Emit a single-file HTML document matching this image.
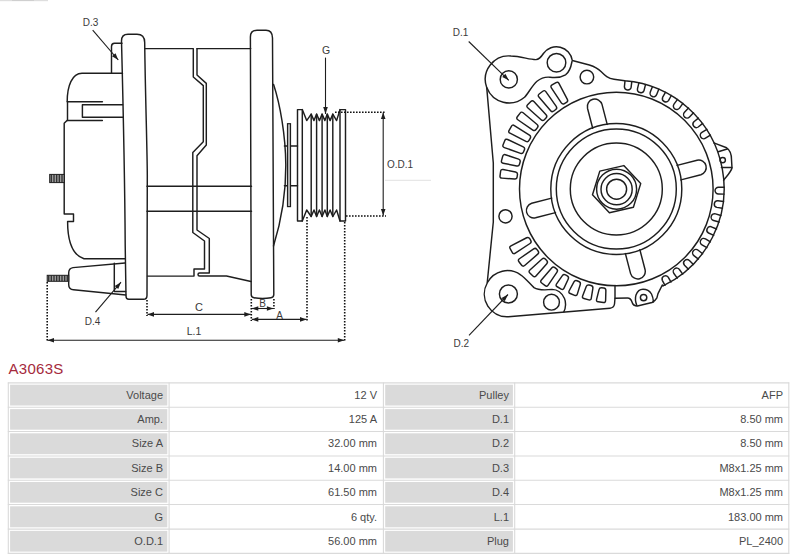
<!DOCTYPE html>
<html><head><meta charset="utf-8">
<style>
html,body{margin:0;padding:0;background:#fff;width:800px;height:558px;overflow:hidden;position:relative;font-family:"Liberation Sans",sans-serif;}
#title{position:absolute;left:8.5px;top:359px;font-size:15px;letter-spacing:0.3px;color:#a52a3c;line-height:20px;white-space:nowrap;}
.hl{position:absolute;height:1px;background:#dcdcdc;}
.vl{position:absolute;width:1px;background:#dcdcdc;}
.fill{position:absolute;background:#dcdcdc;}
.t{position:absolute;font-size:11px;color:#4a4a4a;line-height:14px;white-space:nowrap;text-align:right;}
</style></head><body>
<svg width="800" height="350" viewBox="0 0 800 350" style="position:absolute;left:0;top:0" font-family="Liberation Sans, sans-serif"><defs><pattern id="hatch" width="1.6" height="4" patternUnits="userSpaceOnUse"><rect width="1.6" height="4" fill="#fff"/><rect width="1.1" height="4" fill="#222"/></pattern></defs><g fill="none" stroke="#1e1e1e" stroke-width="1.45" stroke-linejoin="round" stroke-linecap="round">
<path d="M111.5,73.3 V46.5 Q111.5,43.2 114.5,43.2 H122"/>
<path d="M122.5,73.3 H82 C72,73.3 67.2,86 67.2,101.7"/>
<path d="M67.5,101.7 H102.4"/>
<path d="M122.6,104.7 H82.4 V117.2 H122.7"/>
<path d="M67.5,101.7 V120.4"/>
<path d="M102.4,120.4 H67 L64.2,123.2 V214 H73.5 V221.5 H67.6 C67.6,238 71,254.5 84,258.8 H125.2"/>
</g>
<rect x="49.7" y="174.4" width="14.5" height="8.2" fill="url(#hatch)" stroke="#1e1e1e" stroke-width="1"/>
<g fill="none" stroke="#1e1e1e" stroke-width="1.45" stroke-linejoin="round" stroke-linecap="round">
<path d="M121.5,41 Q121.5,34.3 128,34.3 H137 Q144.6,34.3 144.7,42.5 C145.2,90 147.2,150 147.3,175 L147,295.5 Q147,299.3 143.5,299.3 H128.8 Q126,299.3 126,296 L125.2,245 C124.8,175 122.5,80 121.5,41 Z"/>
<path d="M145,48.6 H193.3 V77 L203.3,85.6 V141.8 L192.8,152.6 V232.5 L204.5,241 V269 H194 V276.1 H147.5"/>
<path d="M197,48.6 V75 L206.3,83.4 V145 L197,155.8 V230 L209.3,238.5 V273 H199.5 Q198,273 198,274.5 Q198,276 199.5,276 H226.5 L251,281.5"/>
<path d="M197,48.6 H250.7"/>
<path d="M147,186.3 H251.5"/>
<path d="M147,211.3 H251.5"/>
<path d="M250.4,37 Q250.4,30.3 257,30.3 H266 Q272.3,30.3 272.5,38 L273.8,294.5 Q273.8,297.5 271,297.7 Q262.5,299.2 254,297.7 Q251.2,297.5 251.2,294.5 Z"/>
<path d="M273.6,84.5 C280,104 285.6,135 285.8,165 C286,195 280,225 273.5,246"/>
<path d="M284.4,146 H297.5"/>
<path d="M284.4,185.8 H297.5"/>
</g>
<rect x="287.5" y="123.7" width="3" height="82.9" fill="#bdbdbd" stroke="#1e1e1e" stroke-width="1.2"/>
<g fill="none" stroke="#1e1e1e" stroke-width="1.45" stroke-linejoin="round" stroke-linecap="round">
<path d="M297.5,221 V109.6 H302.3 V221 Z"/>
<path d="M340,221 V109.6 H345.5 V221 Z"/>
<path d="M302.3,109.6 L306.7,120.6 L311.2,114.1 L314.0,120.6 L316.6,114.1 L319.40000000000003,120.6 L322.1,114.1 L324.90000000000003,120.6 L327.3,114.1 L330.1,120.6 L332.8,114.1 L336.6,120.6 L340,109.6"/>
<path d="M302.3,221 L306.7,210 L311.2,216.5 L314.0,210 L316.6,216.5 L319.40000000000003,210 L322.1,216.5 L324.90000000000003,210 L327.3,216.5 L330.1,210 L332.8,216.5 L336.6,210 L340,221"/>
<path d="M311.2,114.1 V216.5"/>
<path d="M316.6,114.1 V216.5"/>
<path d="M322.1,114.1 V216.5"/>
<path d="M327.3,114.1 V216.5"/>
<path d="M332.8,114.1 V216.5"/>
</g>
<g fill="none" stroke="#1e1e1e" stroke-width="1.45" stroke-linejoin="round" stroke-linecap="round">
<path d="M125,263 L73,267.6 Q68.7,268.2 68.7,273 V284.5 Q68.7,289.5 73.5,289.8 L125.8,295"/>
<path d="M114.3,263.2 V291.4 H125.6"/>
</g>
<rect x="47.2" y="275.3" width="21.5" height="6" fill="url(#hatch)" stroke="#1e1e1e" stroke-width="1"/>
<line x1="92.7" y1="30.1" x2="118.3" y2="60" stroke="#1e1e1e" stroke-width="1.1"/>
<path d="M118.3,60.0 L112.0,56.2 L115.5,53.2 Z" fill="#1e1e1e" stroke="none"/>
<line x1="95.5" y1="312.2" x2="121" y2="282.2" stroke="#1e1e1e" stroke-width="1.1"/>
<path d="M121.0,282.2 L118.2,289.0 L114.7,286.0 Z" fill="#1e1e1e" stroke="none"/>
<line x1="325.5" y1="57.6" x2="325.5" y2="114" stroke="#1e1e1e" stroke-width="1.1"/>
<path d="M325.5,114.0 L323.2,107.0 L327.8,107.0 Z" fill="#1e1e1e" stroke="none"/>
<line x1="47.2" y1="282" x2="47.2" y2="341.5" stroke="#111" stroke-width="1.6" stroke-dasharray="1.6,1.4"/>
<line x1="147" y1="300" x2="147" y2="316" stroke="#111" stroke-width="1.6" stroke-dasharray="1.6,1.4"/>
<line x1="251.3" y1="299" x2="251.3" y2="321" stroke="#111" stroke-width="1.6" stroke-dasharray="1.6,1.4"/>
<line x1="273.9" y1="299" x2="273.9" y2="309" stroke="#111" stroke-width="1.6" stroke-dasharray="1.6,1.4"/>
<line x1="307" y1="217" x2="307" y2="321" stroke="#111" stroke-width="1.6" stroke-dasharray="1.6,1.4"/>
<line x1="344.7" y1="222" x2="344.7" y2="342" stroke="#111" stroke-width="1.6" stroke-dasharray="1.6,1.4"/>
<line x1="335" y1="112.2" x2="385" y2="112.2" stroke="#111" stroke-width="1.6" stroke-dasharray="1.6,1.4"/>
<line x1="346" y1="216" x2="386" y2="216" stroke="#111" stroke-width="1.6" stroke-dasharray="1.6,1.4"/>
<line x1="147.5" y1="314.4" x2="250.8" y2="314.4" stroke="#1e1e1e" stroke-width="1.1"/>
<path d="M147.5,314.4 L154.0,312.1 L154.0,316.7 Z" fill="#1e1e1e" stroke="none"/>
<path d="M250.8,314.4 L244.3,316.7 L244.3,312.1 Z" fill="#1e1e1e" stroke="none"/>
<line x1="251.8" y1="308.5" x2="273.4" y2="308.5" stroke="#1e1e1e" stroke-width="1.1"/>
<path d="M251.8,308.5 L258.3,306.2 L258.3,310.8 Z" fill="#1e1e1e" stroke="none"/>
<path d="M273.4,308.5 L266.9,310.8 L266.9,306.2 Z" fill="#1e1e1e" stroke="none"/>
<line x1="251.8" y1="319.4" x2="306.5" y2="319.4" stroke="#1e1e1e" stroke-width="1.1"/>
<path d="M251.8,319.4 L258.3,317.1 L258.3,321.7 Z" fill="#1e1e1e" stroke="none"/>
<path d="M306.5,319.4 L300.0,321.7 L300.0,317.1 Z" fill="#1e1e1e" stroke="none"/>
<line x1="47.5" y1="340.2" x2="344.3" y2="340.2" stroke="#1e1e1e" stroke-width="1.1"/>
<path d="M47.5,340.2 L54.0,337.9 L54.0,342.5 Z" fill="#1e1e1e" stroke="none"/>
<path d="M344.3,340.2 L337.8,342.5 L337.8,337.9 Z" fill="#1e1e1e" stroke="none"/>
<line x1="383.2" y1="112.5" x2="383.2" y2="215.5" stroke="#1e1e1e" stroke-width="1.1"/>
<path d="M383.2,112.5 L385.5,119.0 L380.9,119.0 Z" fill="#1e1e1e" stroke="none"/>
<path d="M383.2,215.5 L380.9,209.0 L385.5,209.0 Z" fill="#1e1e1e" stroke="none"/>
<rect x="0" y="0" width="48" height="1.2" fill="#dedede"/><rect x="12" y="0" width="22" height="1" fill="#cfcfcf"/>
<line x1="385" y1="180.3" x2="431" y2="180.3" stroke="#e2e2e2" stroke-width="1"/>
<text x="90.5" y="25.5" font-size="10" text-anchor="middle" fill="#3a3a3a">D.3</text>
<text x="92.5" y="325" font-size="10" text-anchor="middle" fill="#3a3a3a">D.4</text>
<text x="326" y="53.5" font-size="10.5" text-anchor="middle" fill="#3a3a3a">G</text>
<text x="400" y="168" font-size="10" text-anchor="middle" fill="#3a3a3a">O.D.1</text>
<text x="199" y="311" font-size="11" text-anchor="middle" fill="#3a3a3a">C</text>
<text x="262.6" y="307" font-size="10" text-anchor="middle" fill="#3a3a3a">B</text>
<text x="279.5" y="318.5" font-size="10" text-anchor="middle" fill="#3a3a3a">A</text>
<text x="194" y="335" font-size="10.5" text-anchor="middle" fill="#3a3a3a">L.1</text>
<g fill="none" stroke="#1e1e1e" stroke-width="1.45" stroke-linejoin="round" stroke-linecap="round">
<circle cx="616.3" cy="189.0" r="96.8"/>
<circle cx="616.3" cy="189.0" r="65.5"/>
<circle cx="616.3" cy="189.0" r="60"/>
<circle cx="616.3" cy="189.0" r="46"/>
<circle cx="616.6" cy="189.2" r="20"/>
<circle cx="616.6" cy="189.2" r="15.6"/>
<circle cx="616.6" cy="189.2" r="10"/>
<polygon points="640.7,183.6 633.4,207.3 609.4,212.8 592.5,194.8 599.8,171.1 623.8,165.6"/>
<path d="M607.2,124.4 L602.0,104.4 A7.5,7.5 0 0 0 587.5,108.2 L592.7,128.2"/>
<path d="M680.9,179.9 L700.9,174.7 A7.5,7.5 0 0 0 697.1,160.2 L677.1,165.4"/>
<path d="M625.4,253.6 L630.6,273.6 A7.5,7.5 0 0 0 645.1,269.8 L639.9,249.8"/>
<path d="M551.7,198.1 L531.7,203.3 A7.5,7.5 0 0 0 535.5,217.8 L555.5,212.6"/>
<path d="M517.44,174.60 Q517.73,172.42 515.57,171.99 L503.08,169.50 Q500.92,169.07 500.63,171.25 L500.02,175.81 Q499.73,177.99 501.93,178.14 L514.63,179.01 Q516.83,179.16 517.12,176.98 Z"/>
<path d="M520.11,161.98 Q520.68,159.86 518.60,159.16 L505.38,154.76 Q503.29,154.06 502.72,156.19 L501.53,160.63 Q500.96,162.75 503.12,163.20 L516.77,165.99 Q518.92,166.43 519.49,164.30 Z"/>
<path d="M524.40,149.82 Q525.23,147.79 523.24,146.85 L507.67,139.48 Q505.68,138.54 504.84,140.57 L503.09,144.83 Q502.25,146.86 504.33,147.59 L520.57,153.34 Q522.64,154.07 523.48,152.04 Z"/>
<path d="M530.21,138.31 Q531.30,136.40 529.45,135.22 L514.35,125.55 Q512.50,124.36 511.40,126.27 L509.12,130.27 Q508.02,132.17 509.98,133.17 L525.96,141.30 Q527.92,142.30 529.01,140.39 Z"/>
<path d="M537.45,127.64 Q538.78,125.89 537.10,124.48 L523.13,112.77 Q521.45,111.35 520.12,113.10 L517.33,116.77 Q516.00,118.52 517.82,119.76 L532.86,130.07 Q534.67,131.31 536.00,129.56 Z"/>
<path d="M546.01,118.00 Q547.56,116.43 546.07,114.81 L533.87,101.54 Q532.38,99.92 530.83,101.49 L527.60,104.76 Q526.06,106.33 527.70,107.80 L541.14,119.81 Q542.78,121.28 544.33,119.71 Z"/>
<path d="M555.74,109.54 Q557.47,108.18 556.21,106.39 L545.82,91.65 Q544.55,89.86 542.82,91.21 L539.19,94.04 Q537.46,95.40 538.90,97.06 L550.68,110.71 Q552.12,112.37 553.85,111.02 Z"/>
<path d="M566.48,102.40 Q568.37,101.28 567.35,99.33 L558.94,83.39 Q557.92,81.44 556.02,82.56 L552.06,84.90 Q550.17,86.02 551.38,87.86 L561.31,102.91 Q562.52,104.74 564.41,103.62 Z"/>
<path d="M601.76,287.74 Q599.59,287.44 599.05,289.58 L596.58,299.36 Q596.05,301.49 598.23,301.79 L603.38,302.50 Q605.56,302.79 605.61,300.60 L605.87,290.51 Q605.93,288.31 603.75,288.01 Z"/>
<path d="M589.17,285.05 Q587.05,284.47 586.25,286.52 L582.62,295.92 Q581.82,297.97 583.95,298.55 L588.77,299.86 Q590.89,300.44 591.25,298.27 L592.87,288.32 Q593.22,286.15 591.10,285.57 Z"/>
<path d="M577.02,280.75 Q574.99,279.91 573.96,281.85 L569.20,290.72 Q568.17,292.66 570.20,293.51 L574.63,295.35 Q576.66,296.20 577.31,294.10 L580.26,284.47 Q580.90,282.37 578.87,281.52 Z"/>
<path d="M565.53,274.93 Q563.63,273.83 562.36,275.63 L556.57,283.85 Q555.30,285.65 557.21,286.75 L561.19,289.05 Q563.10,290.15 564.02,288.15 L568.25,279.03 Q569.17,277.03 567.27,275.93 Z"/>
<path d="M554.89,267.68 Q553.14,266.34 551.70,268.00 L541.36,279.99 Q539.92,281.66 541.67,282.99 L545.16,285.67 Q546.91,287.00 548.14,285.18 L557.00,272.05 Q558.23,270.23 556.48,268.89 Z"/>
<path d="M545.27,259.11 Q543.71,257.56 542.07,259.03 L529.91,269.93 Q528.27,271.40 529.83,272.95 L532.95,276.05 Q534.51,277.60 535.97,275.96 L546.79,263.72 Q548.25,262.07 546.69,260.52 Z"/>
<path d="M536.83,249.38 Q535.48,247.64 533.67,248.89 L519.41,258.74 Q517.60,259.99 518.95,261.73 L521.64,265.21 Q522.99,266.94 524.65,265.50 L537.74,254.14 Q539.40,252.70 538.06,250.96 Z"/>
<path d="M529.72,238.64 Q528.60,236.74 526.65,237.75 L510.97,245.83 Q509.02,246.84 510.13,248.74 L512.36,252.53 Q513.47,254.43 515.31,253.22 L530.01,243.48 Q531.84,242.26 530.73,240.36 Z"/>
<path d="M631.8,81.7 L631.1,87.4 A3.4,3.4 0 0 1 624.4,86.7 L625.0,80.9"/>
<path d="M645.5,84.6 L644.1,90.2 A3.4,3.4 0 0 1 637.5,88.6 L638.9,82.9"/>
<path d="M658.8,89.2 L656.7,94.6 A3.4,3.4 0 0 1 650.3,92.1 L652.4,86.7"/>
<path d="M671.3,95.5 L668.5,100.6 A3.4,3.4 0 0 1 662.6,97.4 L665.4,92.3"/>
<path d="M682.9,103.4 L679.5,108.1 A3.4,3.4 0 0 1 674.0,104.1 L677.5,99.4"/>
<path d="M693.5,112.8 L689.5,117.0 A3.4,3.4 0 0 1 684.5,112.3 L688.5,108.1"/>
<path d="M702.7,123.4 L698.2,127.0 A3.4,3.4 0 0 1 693.9,121.8 L698.4,118.1"/>
<path d="M710.4,135.1 L705.5,138.2 A3.4,3.4 0 0 1 701.9,132.4 L706.9,129.3"/>
<path d="M724.1,194.1 L718.4,194.0 A3.4,3.4 0 0 1 718.5,187.2 L724.2,187.3"/>
<path d="M722.5,208.2 L716.9,207.4 A3.4,3.4 0 0 1 717.9,200.7 L723.5,201.5"/>
<path d="M719.1,222.0 L713.6,220.5 A3.4,3.4 0 0 1 715.5,213.9 L720.9,215.5"/>
<path d="M713.8,235.3 L708.6,233.0 A3.4,3.4 0 0 1 711.3,226.8 L716.6,229.0"/>
<path d="M706.9,247.7 L702.0,244.8 A3.4,3.4 0 0 1 705.5,238.9 L710.4,241.9"/>
<path d="M698.4,259.1 L693.9,255.6 A3.4,3.4 0 0 1 698.2,250.2 L702.6,253.8"/>
<path d="M688.4,269.3 L684.5,265.2 A3.4,3.4 0 0 1 689.4,260.5 L693.4,264.6"/>
<path d="M677.3,278.1 L673.9,273.5 A3.4,3.4 0 0 1 679.4,269.5 L682.7,274.1"/>
<path d="M665.0,285.3 L662.3,280.3 A3.4,3.4 0 0 1 668.2,277.1 L671.0,282.1"/>
<path d="M486.7,87.4 A23.5,23.5 0 0 1 511,56 C521,56.3 530,59.8 536,59.6 C539.5,59.4 541.5,56.5 543.4,53.5 A16,16 0 0 1 572.3,60.5 L589.4,65 C594,66.5 598,68.5 601,71.5 C605,75.5 608,78.5 614,79.2 L624.8,80.7 A108.2,108.2 0 0 1 663.1,285.9 L662.3,285 L658,293.6 L656.9,297.9 C655.5,300.5 654,301.5 652,302.5 L637.5,306 C634,306 632.5,304 632,302 C631,299 630,298 627.5,298 L615,298.2 L614.5,304 C614,307 612.5,308 610,308.2 L508.4,316.7 A22.7,22.7 0 0 1 487.2,283 L493.3,222 L493.3,163 Z"/>
<path d="M713.8,142.9 L726.6,147.8 C730,150 731.5,155 731.5,159.6 L732,168 C731,172 726,177 723.6,180.3"/>
<path d="M718.2,151.7 L727.2,149"/>
<path d="M721.4,167.5 H731.8"/>
<path d="M615,285.5 V298.2"/>
<path d="M486.9,87.8 A23.8,23.8 0 0 0 524.5,97.3 C528,94 532,85.5 537,81.2 C541,78 546,76.8 550,77.2 C556,78 561,77.5 565.5,74.8 C569,72.5 571,67 572,61.5"/>
<path d="M487.5,282.5 A22.7,22.7 0 0 1 520.6,274.8 C525,277.5 530,284 534,287.6 C537,289.5 545,290.2 552,289.4 C557,289.5 562,293 564.5,298.5 C566,302 566,308 563.8,311.8"/>
<path d="M636.8,305.5 C635.5,302 635,298 636,295 C637.5,291 640,289.3 643,289.3 C647,289.3 650,291.5 651.5,294 C653,297 653.3,299.5 653.5,302"/>
<circle cx="508.8" cy="79.4" r="8.6"/>
<circle cx="556.5" cy="62.7" r="9.3"/>
<circle cx="586.9" cy="77.1" r="6.8"/>
<circle cx="505.5" cy="216.3" r="6.6"/>
<circle cx="508.4" cy="294" r="9.0"/>
<circle cx="551.5" cy="302.2" r="7.9"/>
<circle cx="722.7" cy="160.1" r="2.7"/>
<circle cx="643.6" cy="297.6" r="3.2"/>
</g>
<line x1="468.7" y1="41.5" x2="508.8" y2="80.3" stroke="#1e1e1e" stroke-width="1.1"/>
<path d="M508.8,80.3 L502.2,77.1 L505.4,73.8 Z" fill="#1e1e1e" stroke="none"/>
<line x1="469" y1="335.4" x2="508" y2="294.5" stroke="#1e1e1e" stroke-width="1.1"/>
<path d="M508.0,294.5 L504.8,301.2 L501.5,298.0 Z" fill="#1e1e1e" stroke="none"/>
<text x="460.5" y="35.8" font-size="10" text-anchor="middle" fill="#3a3a3a">D.1</text>
<text x="461.3" y="346.5" font-size="10" text-anchor="middle" fill="#3a3a3a">D.2</text></svg>
<div id="title">A3063S</div>
<svg width="800" height="558" viewBox="0 0 800 558" style="position:absolute;left:0;top:0">
<rect x="10.10" y="384.70" width="157.20" height="20.80" fill="#dadada"/>
<rect x="385.20" y="384.70" width="127.70" height="20.80" fill="#dadada"/>
<rect x="10.10" y="409.10" width="157.20" height="20.60" fill="#dadada"/>
<rect x="385.20" y="409.10" width="127.70" height="20.60" fill="#dadada"/>
<rect x="10.10" y="433.30" width="157.20" height="20.90" fill="#dadada"/>
<rect x="385.20" y="433.30" width="127.70" height="20.90" fill="#dadada"/>
<rect x="10.10" y="457.80" width="157.20" height="20.60" fill="#dadada"/>
<rect x="385.20" y="457.80" width="127.70" height="20.60" fill="#dadada"/>
<rect x="10.10" y="482.00" width="157.20" height="20.70" fill="#dadada"/>
<rect x="385.20" y="482.00" width="127.70" height="20.70" fill="#dadada"/>
<rect x="10.10" y="506.30" width="157.20" height="21.00" fill="#dadada"/>
<rect x="385.20" y="506.30" width="127.70" height="21.00" fill="#dadada"/>
<rect x="10.10" y="530.90" width="157.20" height="20.70" fill="#dadada"/>
<rect x="385.20" y="530.90" width="127.70" height="20.70" fill="#dadada"/>
<line x1="7.800000000000001" y1="382.9" x2="789.3" y2="382.9" stroke="#dadada" stroke-width="1.1"/>
<line x1="7.800000000000001" y1="407.3" x2="789.3" y2="407.3" stroke="#dadada" stroke-width="1.1"/>
<line x1="7.800000000000001" y1="431.5" x2="789.3" y2="431.5" stroke="#dadada" stroke-width="1.1"/>
<line x1="7.800000000000001" y1="456.0" x2="789.3" y2="456.0" stroke="#dadada" stroke-width="1.1"/>
<line x1="7.800000000000001" y1="480.2" x2="789.3" y2="480.2" stroke="#dadada" stroke-width="1.1"/>
<line x1="7.800000000000001" y1="504.5" x2="789.3" y2="504.5" stroke="#dadada" stroke-width="1.1"/>
<line x1="7.800000000000001" y1="529.1" x2="789.3" y2="529.1" stroke="#dadada" stroke-width="1.1"/>
<line x1="7.800000000000001" y1="553.4" x2="789.3" y2="553.4" stroke="#dadada" stroke-width="1.1"/>
<line x1="8.3" y1="382.4" x2="8.3" y2="553.9" stroke="#dadada" stroke-width="1.1"/>
<line x1="169.1" y1="382.4" x2="169.1" y2="553.9" stroke="#dadada" stroke-width="1.1"/>
<line x1="383.4" y1="382.4" x2="383.4" y2="553.9" stroke="#dadada" stroke-width="1.1"/>
<line x1="514.7" y1="382.4" x2="514.7" y2="553.9" stroke="#dadada" stroke-width="1.1"/>
<line x1="788.8" y1="382.4" x2="788.8" y2="553.9" stroke="#dadada" stroke-width="1.1"/>
</svg>
<div class="t" style="right:637px;top:387.8px">Voltage</div>
<div class="t" style="right:423px;top:387.8px">12 V</div>
<div class="t" style="right:291px;top:387.8px">Pulley</div>
<div class="t" style="right:17px;top:387.8px">AFP</div>
<div class="t" style="right:637px;top:412.1px">Amp.</div>
<div class="t" style="right:423px;top:412.1px">125 A</div>
<div class="t" style="right:291px;top:412.1px">D.1</div>
<div class="t" style="right:17px;top:412.1px">8.50 mm</div>
<div class="t" style="right:637px;top:436.4px">Size A</div>
<div class="t" style="right:423px;top:436.4px">32.00 mm</div>
<div class="t" style="right:291px;top:436.4px">D.2</div>
<div class="t" style="right:17px;top:436.4px">8.50 mm</div>
<div class="t" style="right:637px;top:460.8px">Size B</div>
<div class="t" style="right:423px;top:460.8px">14.00 mm</div>
<div class="t" style="right:291px;top:460.8px">D.3</div>
<div class="t" style="right:17px;top:460.8px">M8x1.25 mm</div>
<div class="t" style="right:637px;top:485.1px">Size C</div>
<div class="t" style="right:423px;top:485.1px">61.50 mm</div>
<div class="t" style="right:291px;top:485.1px">D.4</div>
<div class="t" style="right:17px;top:485.1px">M8x1.25 mm</div>
<div class="t" style="right:637px;top:509.5px">G</div>
<div class="t" style="right:423px;top:509.5px">6 qty.</div>
<div class="t" style="right:291px;top:509.5px">L.1</div>
<div class="t" style="right:17px;top:509.5px">183.00 mm</div>
<div class="t" style="right:637px;top:534.0px">O.D.1</div>
<div class="t" style="right:423px;top:534.0px">56.00 mm</div>
<div class="t" style="right:291px;top:534.0px">Plug</div>
<div class="t" style="right:17px;top:534.0px">PL_2400</div>
</body></html>
